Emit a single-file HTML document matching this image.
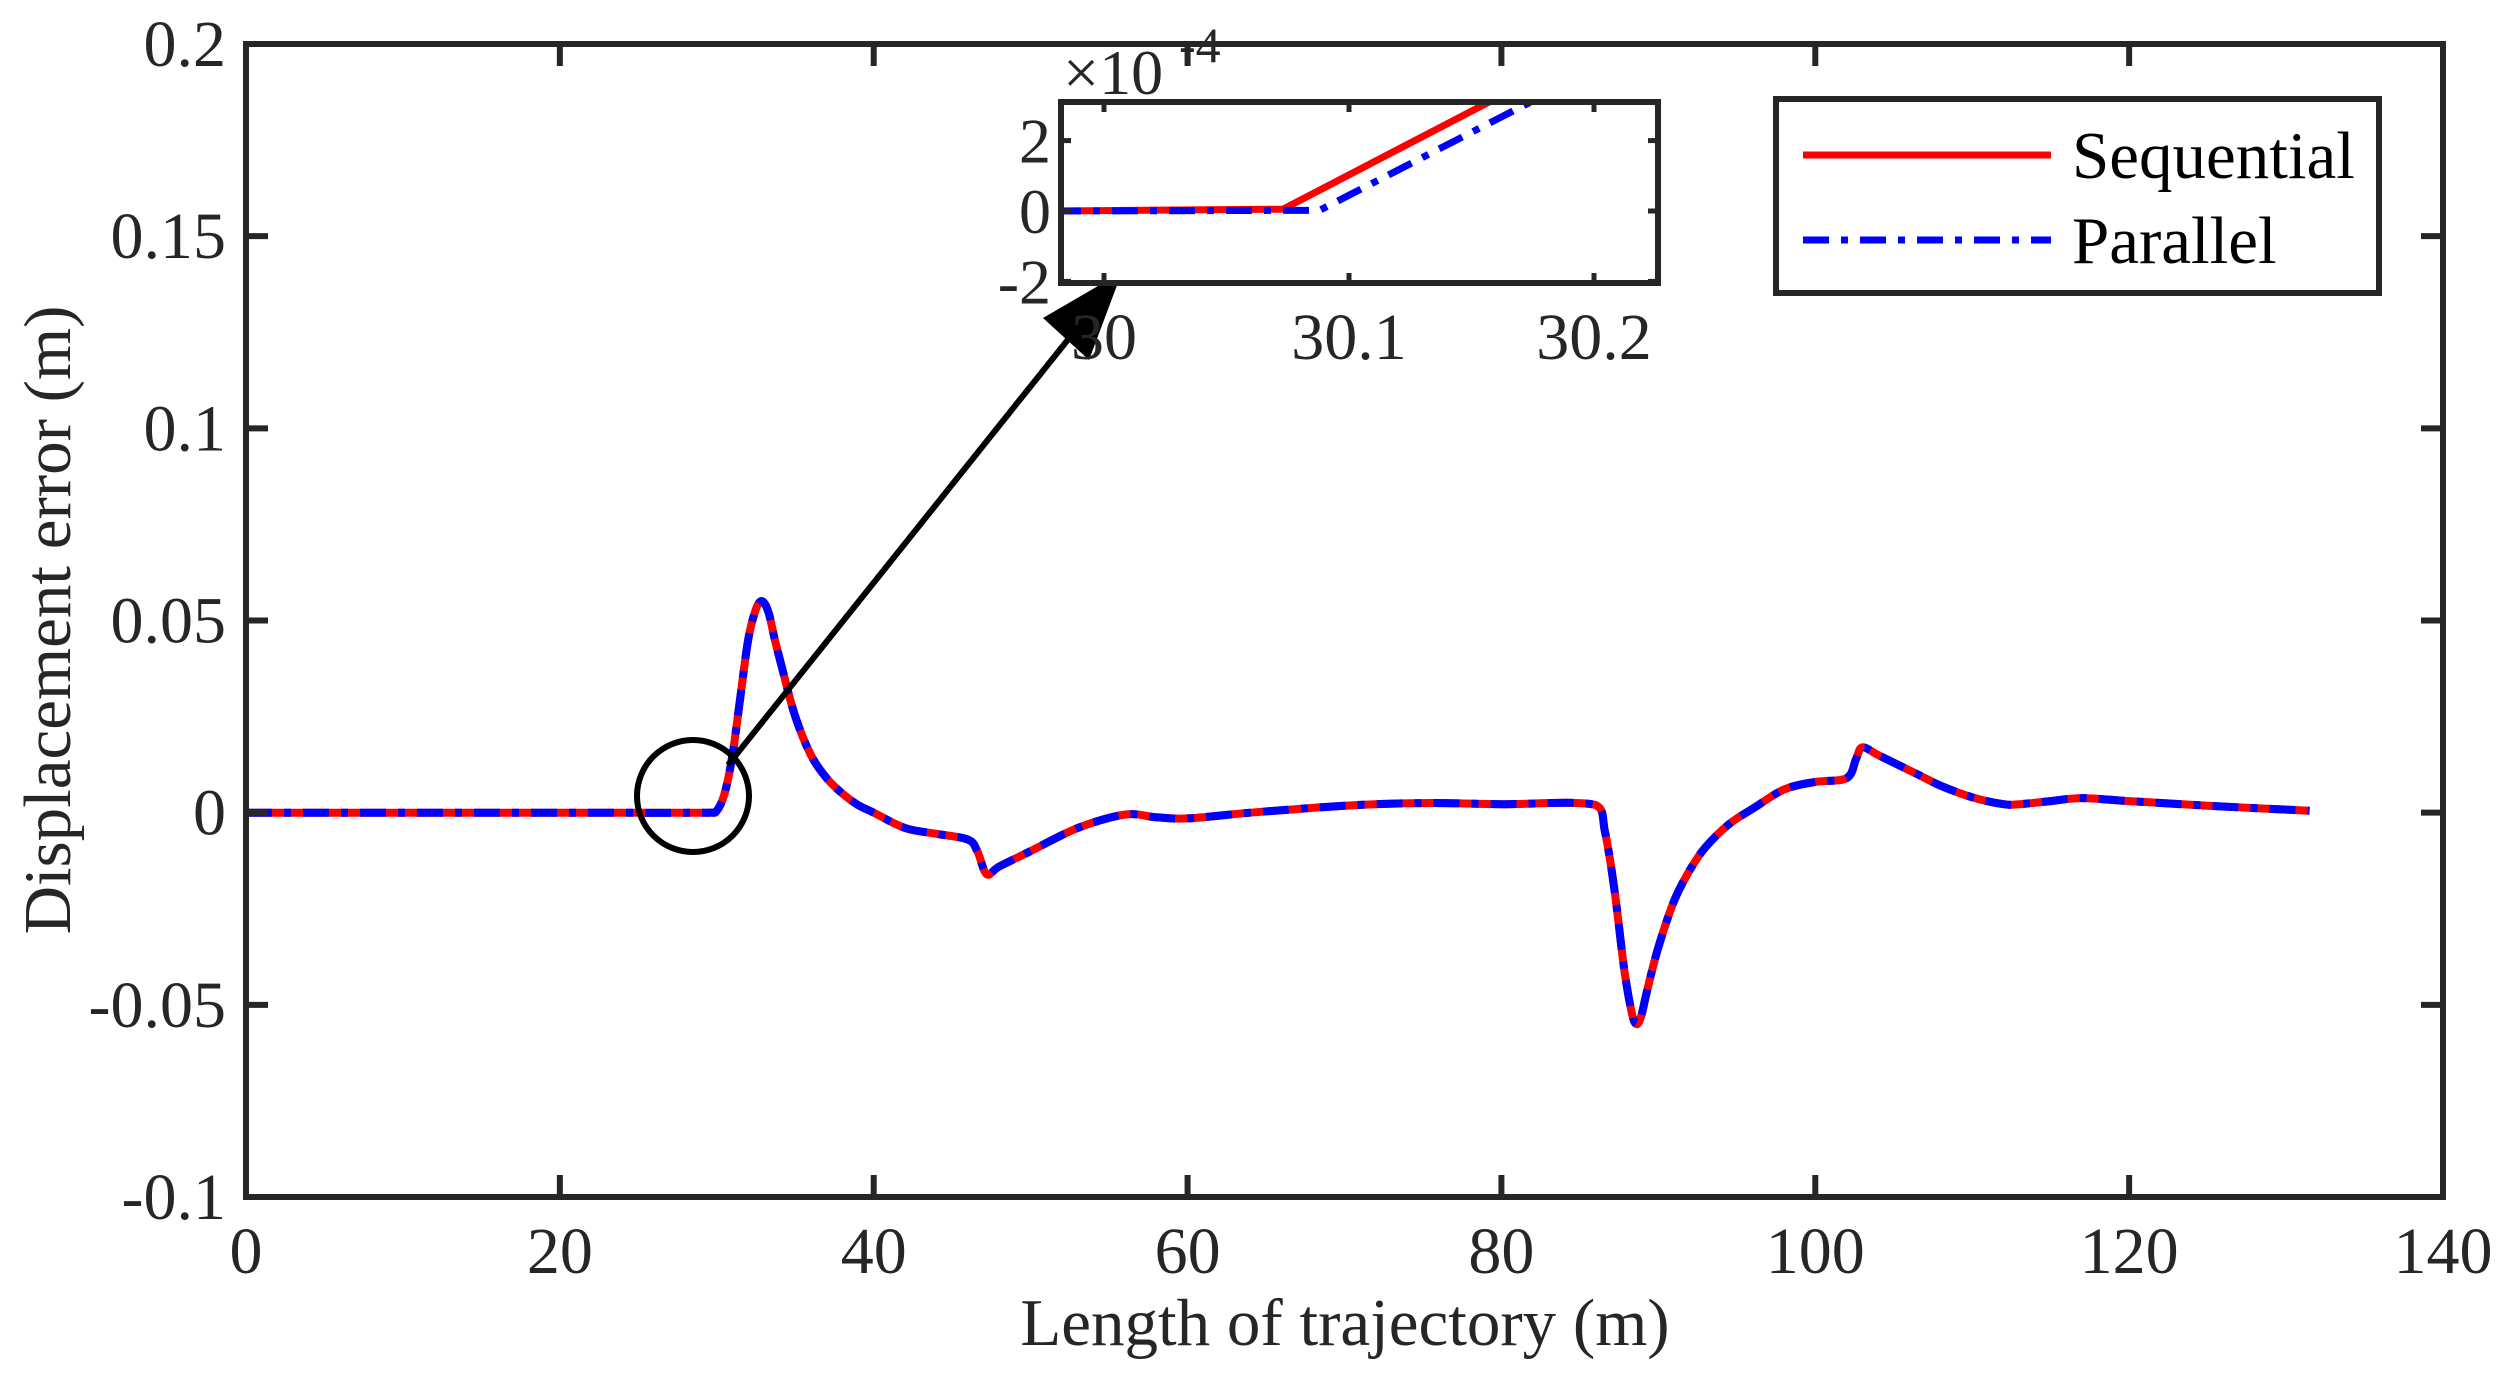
<!DOCTYPE html>
<html><head><meta charset="utf-8"><style>
html,body{margin:0;padding:0;background:#fff;}
svg{display:block;font-family:"Liberation Serif",serif;}
</style></head><body>
<svg id="chart" width="2508" height="1382" viewBox="0 0 2508 1382" xmlns="http://www.w3.org/2000/svg">
<rect width="2508" height="1382" fill="#fff"/>
<g id="main"></g>
<g id="inset"></g>
<g id="legend"></g>
</svg>
<script>
const xTicks=[0,20,40,60,80,100,120,140];
const yTicks=[-0.1,-0.05,0,0.05,0.1,0.15,0.2];
const yTickLabels=["-0.1","-0.05","0","0.05","0.1","0.15","0.2"];
const seqX=[0,10,20,29.5,30,30.5,31,31.5,32,32.5,32.9,33.3,33.7,34.2,35,36,37,38,39,40,42,44,46,46.6,47.2,48,50,53,56,58,60,64,70,75,80,86,86.6,87.2,87.8,88.3,88.6,88.9,89.3,90,91,92,93,94.5,96,98,100,102,102.6,103,104,105,106.5,108,110,112,113,115,117,120,125,131.5];
const seqY=[0,0,0,0,0.0005,0.005,0.015,0.03,0.045,0.053,0.055,0.052,0.045,0.037,0.025,0.015,0.009,0.005,0.002,0.0,-0.004,-0.0055,-0.007,-0.01,-0.016,-0.014,-0.01,-0.004,-0.0005,-0.0012,-0.0015,0.0,0.0018,0.0025,0.0022,0.002,-0.005,-0.02,-0.04,-0.052,-0.055,-0.053,-0.046,-0.035,-0.023,-0.015,-0.009,-0.003,0.001,0.006,0.008,0.009,0.014,0.017,0.015,0.013,0.01,0.007,0.004,0.0022,0.0022,0.003,0.0038,0.003,0.0018,0.0005];
const parY=seqY.slice();
const insetXTicks=[30,30.1,30.2];
const insetXLabels=["30","30.1","30.2"];
const insetYTicks=[-2,0,2];
const insetSeqX=[29.98,30.073,30.16];
const insetSeqY=[0,0.05,3.2];
const insetParX=[29.98,30.088,30.177];
const insetParY=[0,0.02,3.2];

const NS="http://www.w3.org/2000/svg";
function mk(tag,attrs,parent,text){const e=document.createElementNS(NS,tag);for(const k in attrs)e.setAttribute(k,attrs[k]);if(text!==undefined)e.textContent=text;parent.appendChild(e);return e;}
const C="#262626";
const DASH='26 12 7 12';
const L=246,R=2443,T=44,B=1197;
const sx=v=>L+(v-0)/140*(R-L);
const sy=v=>B-(v+0.1)/0.3*(B-T);
const main=document.getElementById('main');
function pathFrom(xs,ys,fx,fy){return xs.map((x,i)=>(i?'L':'M')+fx(x).toFixed(1)+','+fy(ys[i]).toFixed(1)).join(' ');}
function smoothFrom(xs,ys,fx,fy){
 const p=xs.map((x,i)=>[fx(x),fy(ys[i])]);
 let d='M'+p[0][0].toFixed(1)+','+p[0][1].toFixed(1);
 for(let i=0;i<p.length-1;i++){
  const p0=p[Math.max(0,i-1)],p1=p[i],p2=p[i+1],p3=p[Math.min(p.length-1,i+2)];
  let c1x=p1[0]+(p2[0]-p0[0])/6,c1y=p1[1]+(p2[1]-p0[1])/6;
  let c2x=p2[0]-(p3[0]-p1[0])/6,c2y=p2[1]-(p3[1]-p1[1])/6;
  c1x=Math.min(Math.max(c1x,p1[0]),p2[0]);c2x=Math.min(Math.max(c2x,p1[0]),p2[0]);
  d+=' C'+c1x.toFixed(1)+','+c1y.toFixed(1)+' '+c2x.toFixed(1)+','+c2y.toFixed(1)+' '+p2[0].toFixed(1)+','+p2[1].toFixed(1);
 }
 return d;
}
const sp=mk('path',{d:smoothFrom(seqX,seqY,sx,sy),fill:'none',stroke:'#ff0000','stroke-width':8,'stroke-linejoin':'round'},main);


const pp=mk('path',{d:smoothFrom(seqX,parY,sx,sy),fill:'none',stroke:'#0000ff','stroke-width':8,'stroke-dasharray':DASH,'stroke-linejoin':'round'},main);


const fr=mk('rect',{x:L,y:T,width:R-L,height:B-T,fill:'none',stroke:C,'stroke-width':6},main);


xTicks.forEach(v=>{const x=sx(v);
 mk('line',{x1:x,x2:x,y1:B,y2:B-22,stroke:C,'stroke-width':6},main);
 mk('line',{x1:x,x2:x,y1:T,y2:T+22,stroke:C,'stroke-width':6},main);
 const t=mk('text',{x:x,y:B+76,'font-size':66,'text-anchor':'middle',fill:C},main,String(v));
 
 });
yTicks.forEach((v,i)=>{const y=sy(v);
 mk('line',{x1:L,x2:L+22,y1:y,y2:y,stroke:C,'stroke-width':6},main);
 mk('line',{x1:R,x2:R-22,y1:y,y2:y,stroke:C,'stroke-width':6},main);
 const t=mk('text',{x:L-20,y:y+22,'font-size':66,'text-anchor':'end',fill:C},main,yTickLabels[i]);
 
 });
const xt=mk('text',{x:1345,y:1345,'font-size':67,'text-anchor':'middle',fill:C},main,'Length of trajectory (m)');


const yt=mk('text',{x:0,y:0,'font-size':67,'text-anchor':'middle',fill:C,transform:'translate(70,620) rotate(-90)'},main,'Displacement error (m)');


const ci=mk('circle',{cx:693,cy:796,r:56,fill:'none',stroke:'#000','stroke-width':6},main);


const ar=mk('line',{x1:728,y1:765,x2:1098,y2:302,stroke:'#000','stroke-width':6},main);


const ah=mk('polygon',{points:'1122,272 1043,318 1089,360',fill:'#000'},main);


// inset
const iL=1061,iR=1658,iT=102,iB=283;
const ix=v=>1104+(v-30)/0.1*245;
const iy=v=>211-v*35.2;
const ins=document.getElementById('inset');
mk('rect',{x:iL,y:iT,width:iR-iL,height:iB-iT,fill:'#fff'},ins);
mk('defs',{},ins).innerHTML='<clipPath id="ic"><rect x="'+iL+'" y="'+iT+'" width="'+(iR-iL)+'" height="'+(iB-iT)+'"/></clipPath>';
const g=mk('g',{'clip-path':'url(#ic)'},ins);
const is=mk('path',{d:pathFrom(insetSeqX,insetSeqY,ix,iy),fill:'none',stroke:'#ff0000','stroke-width':7},g);


const ip=mk('path',{d:pathFrom(insetParX,insetParY,ix,iy),fill:'none',stroke:'#0000ff','stroke-width':7,'stroke-dasharray':DASH},g);


const ifr=mk('rect',{x:iL,y:iT,width:iR-iL,height:iB-iT,fill:'none',stroke:C,'stroke-width':6},ins);


insetXTicks.forEach((v,i)=>{const x=ix(v);
 mk('line',{x1:x,x2:x,y1:iB,y2:iB-10,stroke:C,'stroke-width':5},ins);
 mk('line',{x1:x,x2:x,y1:iT,y2:iT+10,stroke:C,'stroke-width':5},ins);
 const t=mk('text',{x:x,y:iB+76,'font-size':66,'text-anchor':'middle',fill:C},ins,insetXLabels[i]);
 
 });
insetYTicks.forEach(v=>{const y=iy(v);
 mk('line',{x1:iL,x2:iL+10,y1:y,y2:y,stroke:C,'stroke-width':5},ins);
 mk('line',{x1:iR,x2:iR-10,y1:y,y2:y,stroke:C,'stroke-width':5},ins);
 const t=mk('text',{x:iL-10,y:y+22,'font-size':64,'text-anchor':'end',fill:C},ins,String(v));
 
 });
const ex=mk('text',{x:iL+2,y:iT-8,'font-size':64,fill:C},ins,'×10');


const ex2=mk('text',{x:iL+118,y:iT-40,'font-size':50,fill:C},ins,'-4');


// legend
const lg=document.getElementById('legend');
const lb=mk('rect',{x:1776,y:99,width:603,height:194,fill:'#fff',stroke:C,'stroke-width':6},lg);


mk('line',{x1:1803,x2:2051,y1:155,y2:155,stroke:'#ff0000','stroke-width':7},lg);
mk('line',{x1:1803,x2:2051,y1:240,y2:240,stroke:'#0000ff','stroke-width':7,'stroke-dasharray':DASH},lg);
const l1=mk('text',{x:2072,y:178,'font-size':67,fill:'#000'},lg,'Sequential');


const l2=mk('text',{x:2072,y:263,'font-size':67,fill:'#000'},lg,'Parallel');


</script>
</body></html>
